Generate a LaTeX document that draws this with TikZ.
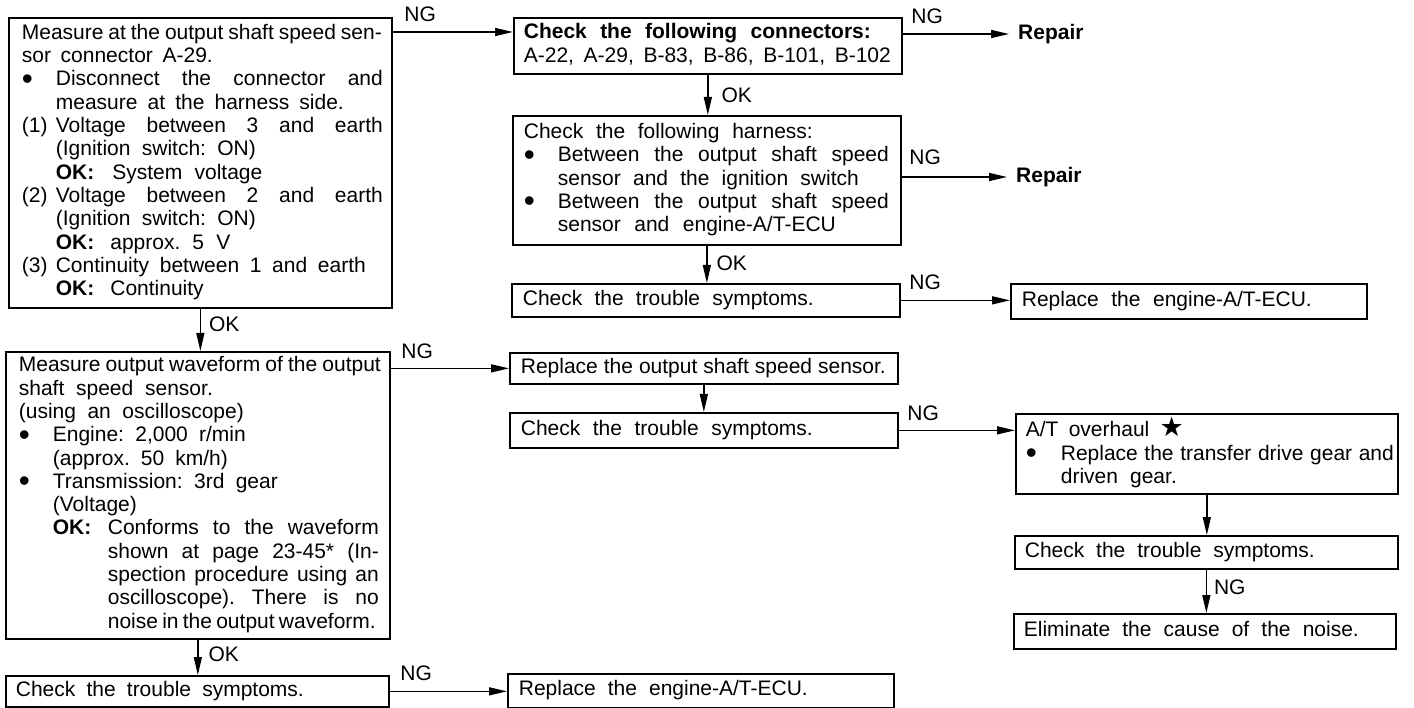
\documentclass[tikz,border=0pt]{standalone}
\usepackage{fontspec}
\setmainfont{Liberation Sans}[WordSpace=1.5]
\newfontfamily\dejavu{DejaVu Sans}
\usetikzlibrary{arrows.meta}
\newcommand\fs{\fontsize{21pt}{23.3pt}\selectfont\frenchspacing\parskip=0pt\parindent=0pt}
\newcommand\jl[2]{\hbox to #1{\spaceskip=0.15em plus 1fil\relax #2}}
\newcommand\bul{\raisebox{-0.16em}{\scalebox{1.5}{\textbullet}}}
\newcommand\itm[1]{\makebox[34pt][l]{#1}}
\newcommand\ind{\hspace*{34pt}}
\newcommand\lnx{\noindent\strut}
\newcommand\starsym{{\dejavu\fontsize{27pt}{23.3pt}\selectfont ★}}
\tikzset{
  box/.style={draw, line width=1.7pt, anchor=north west, align=left, inner ysep=0pt, font=\fs},
  arr/.style={line width=1.4pt, -{Triangle[length=18pt,width=8pt]}},
  lbl/.style={font=\fs, inner sep=0pt},
  rep/.style={font=\fs\bfseries, inner xsep=9pt, inner ysep=0pt, anchor=west}
}
\begin{document}
\begin{tikzpicture}[x=1pt,y=-1pt]
\fill[white] (0,0) rectangle (1414,708);
\path[use as bounding box] (0,0) rectangle (1414,708);

% left column
\node[box, text width=357pt, inner xsep=13pt, minimum height=290pt] (b1) at (8,17) {%
\lnx\jl{360pt}{Measure at the output shaft speed sen-}\\
\lnx\jl{191pt}{sor connector A-29.}\\
\lnx\itm{\bul}\jl{327pt}{Disconnect the connector and}\\
\lnx\ind\jl{288pt}{measure at the harness side.}\\
\lnx\itm{(1)}\jl{327pt}{Voltage between 3 and earth}\\
\lnx\ind\jl{200pt}{(Ignition switch: ON)}\\
\lnx\ind\textbf{OK:}\hspace{18pt}\jl{150pt}{System voltage}\\
\lnx\itm{(2)}\jl{327pt}{Voltage between 2 and earth}\\
\lnx\ind\jl{200pt}{(Ignition switch: ON)}\\
\lnx\ind\textbf{OK:}\hspace{16pt}\jl{120pt}{approx. 5 V}\\
\lnx\itm{(3)}\jl{310pt}{Continuity between 1 and earth}\\
\lnx\ind\textbf{OK:}\hspace{16pt}Continuity\strut};

\node[box, text width=358pt, inner xsep=13pt, minimum height=287pt] (b2) at (5,351) {%
\lnx\jl{362pt}{Measure output waveform of the output}\\
\lnx\jl{194pt}{shaft speed sensor.}\\
\lnx\jl{225pt}{(using an oscilloscope)}\\
\lnx\itm{\bul}\jl{193pt}{Engine: 2,000 r/min}\\
\lnx\ind\jl{175pt}{(approx. 50 km/h)}\\
\lnx\itm{\bul}\jl{225pt}{Transmission: 3rd gear}\\
\lnx\ind(Voltage)\\
\lnx\ind\makebox[55pt][l]{\textbf{OK:}}\jl{271pt}{Conforms to the waveform}\\
\lnx\hspace*{89pt}\jl{271pt}{shown at page 23-45* (In-}\\
\lnx\hspace*{89pt}\jl{271pt}{spection procedure using an}\\
\lnx\hspace*{89pt}\jl{271pt}{oscilloscope). There is no}\\
\lnx\hspace*{89pt}\jl{268pt}{noise in the output waveform.}\strut};

\node[box, text width=363pt, inner xsep=10pt, minimum height=31pt] (b3) at (5,675) {%
\lnx\jl{288pt}{Check the trouble symptoms.}\strut};

% middle column
\node[box, text width=368pt, inner xsep=10pt, minimum height=56pt] (r1) at (513,17) {%
\lnx\jl{347pt}{\bfseries Check the following connectors:}\\
\lnx\jl{367pt}{A-22, A-29, B-83, B-86, B-101, B-102}\strut};

\node[box, text width=366pt, inner xsep=11pt, minimum height=129pt] (r2) at (512,115) {%
\lnx\jl{289pt}{Check the following harness:}\\
\lnx\itm{\bul}\jl{331pt}{Between the output shaft speed}\\
\lnx\ind\jl{301pt}{sensor and the ignition switch}\\
\lnx\itm{\bul}\jl{331pt}{Between the output shaft speed}\\
\lnx\ind\jl{278pt}{sensor and engine-A/T-ECU}\strut};

\node[box, text width=366pt, inner xsep=11pt, minimum height=33pt] (r3) at (511,283) {%
\lnx\jl{291pt}{Check the trouble symptoms.}\strut};

\node[box, text width=366pt, inner xsep=11pt, minimum height=31pt] (m1) at (509,352) {%
\lnx\jl{365pt}{Replace the output shaft speed sensor.}\strut};

\node[box, text width=366pt, inner xsep=11pt, minimum height=35pt] (m2) at (509,412) {%
\lnx\jl{292pt}{Check the trouble symptoms.}\strut};

\node[box, text width=364pt, inner xsep=11pt, minimum height=34pt] (ecu2) at (507,673) {%
\lnx\jl{289pt}{Replace the engine-A/T-ECU.}\strut};

% right column
\node[rep] (rep1) at (1009,34) {Repair};
\node[rep] (rep2) at (1007,177) {Repair};

\node[box, text width=334pt, inner xsep=11pt, minimum height=35pt] (ecu1) at (1010,283) {%
\lnx\jl{290pt}{Replace the engine-A/T-ECU.}\strut};

\node[box, text width=362pt, inner xsep=10pt, minimum height=80pt] (at1) at (1015,413) {%
\lnx\jl{158pt}{A/T overhaul \starsym}\\
\lnx\makebox[35pt][l]{\bul}\jl{333pt}{Replace the transfer drive gear and}\\
\lnx\hspace*{35pt}\jl{116pt}{driven gear.}\strut};

\node[box, text width=363pt, inner xsep=10pt, minimum height=33pt] (at2) at (1014,535) {%
\lnx\jl{290pt}{Check the trouble symptoms.}\strut};

\node[box, text width=362pt, inner xsep=10pt, minimum height=35pt] (at3) at (1013,613) {%
\lnx\jl{335pt}{Eliminate the cause of the noise.}\strut};

% connectors
\draw[arr] ([yshift=-15pt]b1.north east) -- node[lbl, pos=0, anchor=base west, xshift=11pt, yshift=10pt] {NG} ([yshift=-15pt]b1.north east -| r1.west);
\draw[arr] (rep1.west -| r1.east) -- node[lbl, pos=0, anchor=base west, xshift=8pt, yshift=10.5pt] {NG} (rep1.west);
\draw[arr] (r1.south) -- node[lbl, pos=0.5, anchor=west, xshift=13pt] {OK} (r1.south |- r2.north);
\draw[arr] (rep2.west -| r2.east) -- node[lbl, pos=0, anchor=base west, xshift=7pt, yshift=12pt] {NG} (rep2.west);
\draw[arr] (r2.south) -- node[lbl, pos=0.47, anchor=west, xshift=9pt] {OK} (r2.south |- r3.north);
\draw[arr] (r3.east) -- node[lbl, pos=0, anchor=base west, xshift=8pt, yshift=10.5pt] {NG} (r3.east -| ecu1.west);
\draw[arr] (b1.south) -- node[lbl, pos=0.36, anchor=west, xshift=8pt] {OK} (b1.south |- b2.north);
\draw[arr] (m1.west -| b2.east) -- node[lbl, pos=0, anchor=base west, xshift=10pt, yshift=10pt] {NG} (m1.west);
\draw[arr] (m1.south) -- (m1.south |- m2.north);
\draw[arr] (m2.east) -- node[lbl, pos=0, anchor=base west, xshift=8pt, yshift=9.5pt] {NG} (m2.east -| at1.west);
\draw[arr] (at1.south) -- (at1.south |- at2.north);
\draw[arr] (at2.south) -- node[lbl, pos=0.4, anchor=west, xshift=7pt] {NG} (at2.south |- at3.north);
\draw[arr] (b2.south) -- node[lbl, pos=0.4, anchor=west, xshift=10pt] {OK} (b2.south |- b3.north);
\draw[arr] (b3.east) -- node[lbl, pos=0, anchor=base west, xshift=10pt, yshift=11pt] {NG} (b3.east -| ecu2.west);
\end{tikzpicture}
\end{document}
